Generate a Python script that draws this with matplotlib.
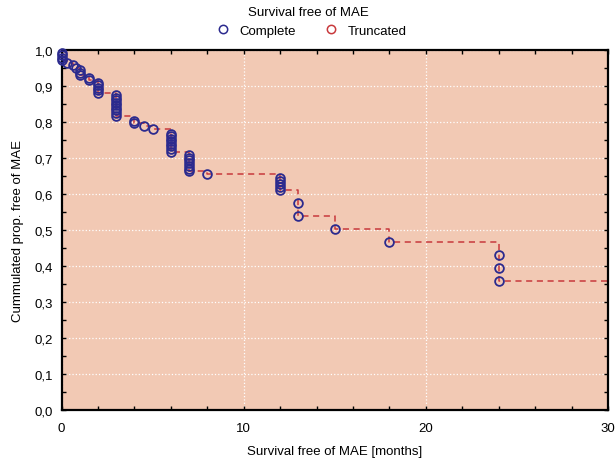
import matplotlib.pyplot as plt
from matplotlib.ticker import MultipleLocator, FuncFormatter
from matplotlib.lines import Line2D

plt.rcParams['font.family'] = ['Liberation Sans', 'DejaVu Sans']

# event times (months) and survival after each event
event_times = [0, 0, 0, 0, 0.3, 0.6, 0.8, 1, 1, 1, 1.5, 1.5,
               2, 2, 2, 2, 2,
               3, 3, 3, 3, 3, 3, 3, 3, 3,
               4, 4, 4.5, 5,
               6, 6, 6, 6, 6, 6, 6, 6,
               7, 7, 7, 7, 7, 7, 7,
               8,
               12, 12, 12, 12, 12,
               13, 13, 15, 18, 24, 24, 24]
event_surv = [0.993, 0.986, 0.979, 0.972, 0.965, 0.958, 0.951, 0.944, 0.937, 0.930, 0.923, 0.916,
              0.909, 0.902, 0.895, 0.888, 0.881,
              0.874, 0.867, 0.860, 0.853, 0.846, 0.839, 0.832, 0.825, 0.818,
              0.804, 0.797, 0.790, 0.781,
              0.767, 0.760, 0.753, 0.746, 0.739, 0.732, 0.725, 0.718,
              0.709, 0.701, 0.693, 0.685, 0.677, 0.670, 0.663,
              0.656,
              0.643, 0.635, 0.627, 0.619, 0.610,
              0.575, 0.539, 0.503, 0.467, 0.431, 0.395, 0.358]
max_time = 30

bg = '#f2c9b4'
navy = '#2b2a8e'
red = '#c8393c'

fig = plt.figure(figsize=(6.16, 4.6), dpi=100)
ax = fig.add_axes([0.1, 0.107, 0.887, 0.782])
ax.set_facecolor(bg)

# Kaplan-Meier step line
xs = [0] + event_times + [max_time]
ys = [1.0] + event_surv + [event_surv[-1]]
ax.plot(xs, ys, drawstyle='steps-post', color=red, ls=(0, (4, 3)), lw=1.1, zorder=2)
ax.plot(event_times, event_surv, 'o', mfc='none', mec=navy, ms=6.3, mew=1.3, zorder=3,
        clip_on=False)

ax.set_xlim(0, 30)
ax.set_ylim(0, 1.0)
ax.xaxis.set_major_locator(MultipleLocator(10))
ax.xaxis.set_minor_locator(MultipleLocator(2))
ax.yaxis.set_major_locator(MultipleLocator(0.1))
ax.yaxis.set_minor_locator(MultipleLocator(0.05))
ax.yaxis.set_major_formatter(FuncFormatter(lambda v, p: f'{v:.1f}'.replace('.', ',')))
ax.grid(True, which='major', color='white', ls=':', lw=0.9)
ax.set_axisbelow(True)
ax.tick_params(which='both', direction='in', top=True, right=True, labelsize=9.5, length=3, width=1)
ax.tick_params(axis='x', which='major', pad=9)
ax.tick_params(axis='y', which='major', pad=6)
for s in ax.spines.values():
    s.set_linewidth(1.6)

ax.set_xlabel('Survival free of MAE [months]', fontsize=9.5, labelpad=8)
ax.set_ylabel('Cummulated prop. free of MAE', fontsize=9.5, labelpad=8)

handles = [Line2D([], [], ls='none', marker='o', mfc='none', mec=navy, ms=6, mew=1.1),
           Line2D([], [], ls='none', marker='o', mfc='none', mec=red, ms=6, mew=1.1)]
fig.legend(handles, ['Complete', 'Truncated'], title='Survival free of MAE',
           loc='upper center', bbox_to_anchor=(0.5, 1.01), ncol=2, frameon=False,
           fontsize=9.5, title_fontsize=9.5, handletextpad=0.3, columnspacing=1.6)

fig.savefig('out.png', dpi=100)
